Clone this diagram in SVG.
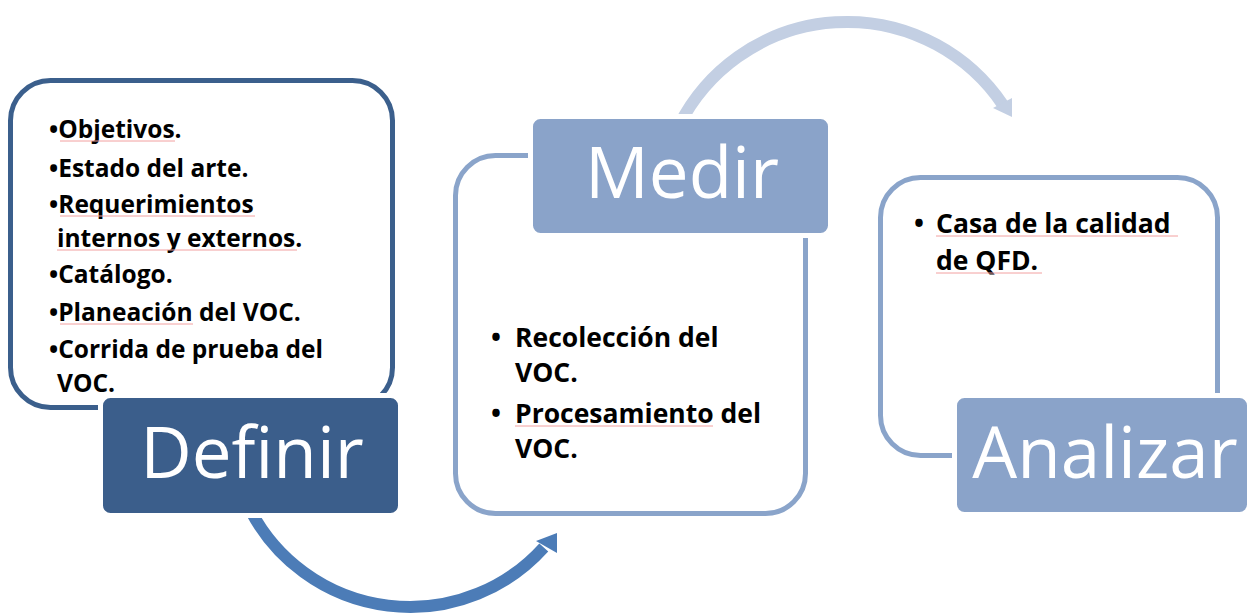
<svg xmlns="http://www.w3.org/2000/svg" width="1249" height="615" viewBox="0 0 1249 615">
<style>
.content{fill:#ffffff;stroke-width:5}
.dark{stroke:#3b5f8c}
.light{stroke:#8aa4ca}
.label{stroke:#ffffff;stroke-width:5}
.lbl{font-family:"Open Sans","Liberation Sans",sans-serif;font-size:71px;fill:#ffffff;text-anchor:middle}
.item{font-family:"Open Sans","Liberation Sans",sans-serif;font-size:24.5px;font-weight:bold;fill:#000000}
.big{font-size:26.5px}
.sq{stroke:#f2a0a0;stroke-width:1;fill:none}
</style>
<rect width="1249" height="615" fill="#ffffff"/>
<g id="connectors">
  <g id="arrow-definir-medir">
    <path d="M 251.1 511.5 A 180 180 0 0 0 543.8 547.4" fill="none" stroke="#4c7cb7" stroke-width="12"/>
    <polygon points="536,541 557,533 557,553" fill="#4c7cb7"/>
  </g>
  <g id="arrow-medir-analizar">
    <path d="M 679.3 125 A 188 188 0 0 1 1002.9 104.9" fill="none" stroke="#c3cfe3" stroke-width="12"/>
    <polygon points="993,108 1012,117 1012,98" fill="#c3cfe3"/>
  </g>
</g>
<g id="node-definir">
  <rect class="content dark" x="10.5" y="80.5" width="382" height="327" rx="40"/>
  <text class="item" x="49" y="138">•Objetivos.</text>
  <text class="item" x="49" y="177">•Estado del arte.</text>
  <text class="item" x="49" y="213">•Requerimientos</text>
  <text class="item" x="57" y="247">internos y externos.</text>
  <text class="item" x="49" y="283">•Catálogo.</text>
  <text class="item" x="49" y="321">•Planeación del VOC.</text>
  <text class="item" x="49" y="358">•Corrida de prueba del</text>
  <text class="item" x="57" y="392">VOC.</text>
  <path class="sq" d="M60 141H175M60 216H255M57 250H297M60 324H193"/>
  <rect class="label" x="100.5" y="395.5" width="300" height="120" rx="10" fill="#3b5e8b"/>
  <text class="lbl" x="252" y="478">Definir</text>
</g>
<g id="node-medir">
  <rect class="content light" x="455.5" y="155.5" width="350" height="358" rx="40"/>
  <text class="item big" x="491" y="347">•</text>
  <text class="item big" x="515" y="347">Recolección del</text>
  <text class="item big" x="515" y="382">VOC.</text>
  <text class="item big" x="491" y="423">•</text>
  <text class="item big" x="515" y="423">Procesamiento del</text>
  <text class="item big" x="515" y="458">VOC.</text>
  <path class="sq" d="M515 426H713"/>
  <rect class="label" x="530.5" y="116.5" width="300" height="119" rx="10" fill="#8aa3c9"/>
  <text class="lbl" x="682" y="198">Medir</text>
</g>
<g id="node-analizar">
  <rect class="content light" x="880.5" y="177.5" width="337" height="278" rx="40"/>
  <text class="item big" x="914" y="233">•</text>
  <text class="item big" x="936" y="233">Casa de la calidad</text>
  <text class="item big" x="936" y="270">de QFD.</text>
  <path class="sq" d="M936 236H1178M936 273H1042"/>
  <rect class="label" x="954.5" y="395.5" width="295" height="119" rx="10" fill="#8aa3c9"/>
  <text class="lbl" x="1105" y="478">Analizar</text>
</g>
</svg>
